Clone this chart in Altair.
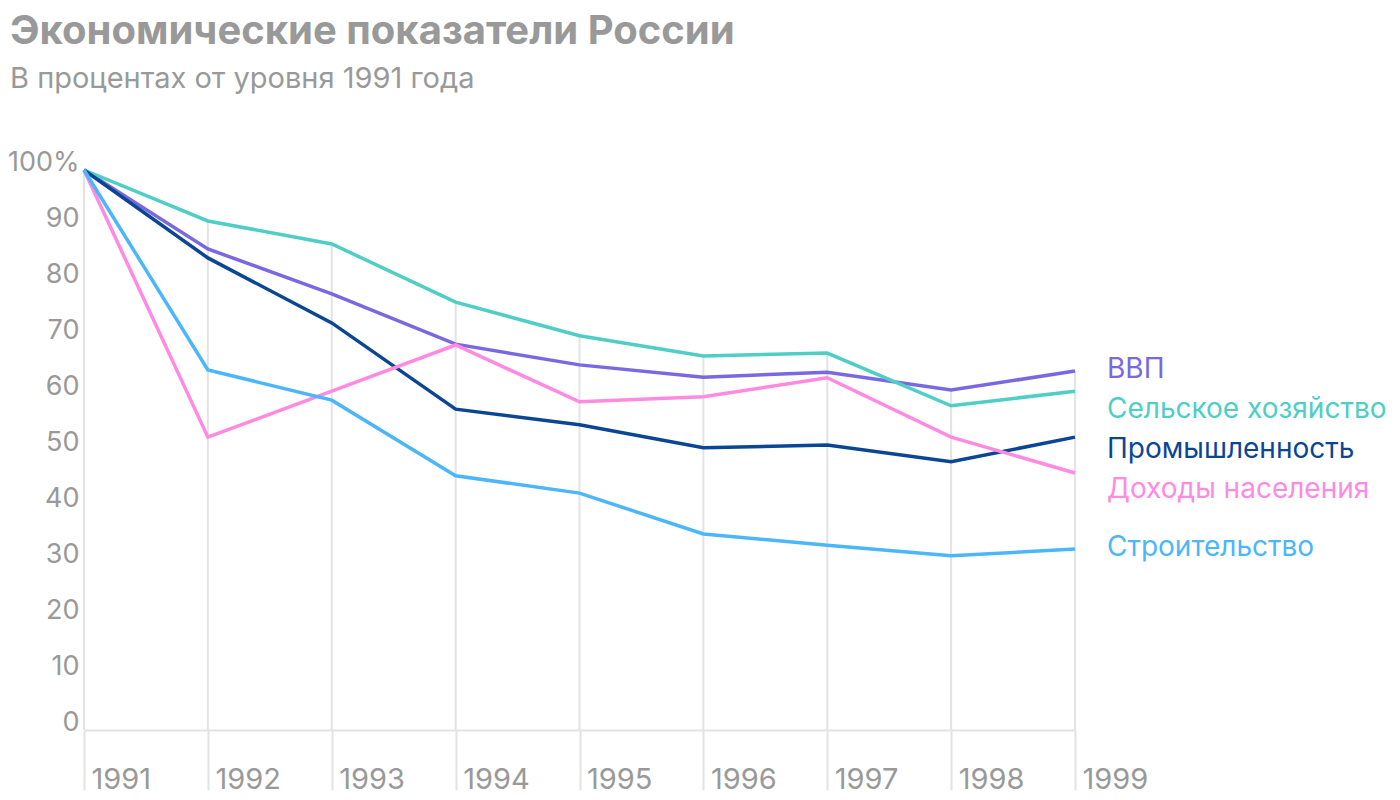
import altair as alt
import pandas as pd

years = [1991, 1992, 1993, 1994, 1995, 1996, 1997, 1998, 1999]
series_names = ["ВВП", "Сельское хозяйство", "Промышленность", "Доходы населения", "Строительство"]
gdp = [100, 85.9, 77.9, 68.9, 65.2, 63.0, 63.9, 60.7, 64.1]
agri = [100, 90.9, 86.8, 76.4, 70.4, 66.8, 67.3, 57.9, 60.5]
industry = [100, 84.3, 72.7, 57.3, 54.5, 50.4, 50.9, 47.9, 52.3]
income = [100, 52.3, 60.5, 68.75, 58.6, 59.5, 62.9, 52.3, 45.9]
construction = [100, 64.3, 58.9, 45.4, 42.3, 35.0, 33.0, 31.1, 32.3]
label_y = [64.3, 57.1, 50.0, 42.9, 32.5]
colors = ["#7a68e2", "#4ecec4", "#0a4694", "#ff8ae2", "#4cb6fb"]
y_ticks = [0, 10, 20, 30, 40, 50, 60, 70, 80, 90, 100]

all_series = [gdp, agri, industry, income, construction]
rows = []
for name, vals in zip(series_names, all_series):
    for yr, v in zip(years, vals):
        rows.append({"year": yr, "series": name, "value": v})
df = pd.DataFrame(rows)

drop_df = pd.DataFrame({"year": years, "top": [max(s[i] for s in all_series) for i in range(len(years))]})
lab_df = pd.DataFrame({"series": series_names, "year": [years[-1]] * len(series_names), "ly": label_y})

FONT = "Inter"
GRAY = "#999999"
GRID = "#e3e3e3"

xscale = alt.Scale(domain=[1991, 1999], nice=False, zero=False)
yscale = alt.Scale(domain=[0, 100], nice=False)
cscale = alt.Scale(domain=series_names, range=colors)

drops = alt.Chart(drop_df).mark_rule(color=GRID, strokeWidth=2).encode(
    x=alt.X("year:Q", scale=xscale,
            axis=alt.Axis(values=years, format="d", title=None, grid=False,
                          domain=True, domainColor=GRID, domainWidth=2,
                          ticks=True, tickColor=GRID, tickWidth=2, tickSize=60,
                          labelAlign="left", labelBaseline="alphabetic", labelOffset=7,
                          labelPadding=-2, labelFontSize=29, labelColor=GRAY,
                          labelFont=FONT, labelFlush=False)),
    y=alt.Y("top:Q", scale=yscale,
            axis=alt.Axis(values=y_ticks, title=None, grid=False, domain=False, ticks=False,
                          labelExpr="datum.value == 100 ? '100%' : datum.label",
                          labelAlign="right", labelBaseline="alphabetic", labelPadding=5,
                          labelFontSize=27, labelColor=GRAY, labelFont=FONT)),
    y2=alt.datum(0),
)

lines = alt.Chart(df).mark_line(strokeWidth=3.5, strokeJoin="miter").encode(
    x=alt.X("year:Q", scale=xscale),
    y=alt.Y("value:Q", scale=yscale),
    color=alt.Color("series:N", scale=cscale, legend=None),
    order=alt.Order("year:Q"),
)

labels = alt.Chart(lab_df).mark_text(align="left", baseline="middle", dx=32,
                                     fontSize=28, font=FONT).encode(
    x=alt.X("year:Q", scale=xscale),
    y=alt.Y("ly:Q", scale=yscale),
    text="series:N",
    color=alt.Color("series:N", scale=cscale, legend=None),
)

chart = alt.layer(drops, lines, labels).properties(
    width=991, height=560,
    padding={"left": 76, "top": 162, "right": 317, "bottom": 70},
    autosize=alt.AutoSizeParams(type="none"),
    title=alt.TitleParams(
        text="Экономические показатели России",
        subtitle="В процентах от уровня 1991 года",
        anchor="start", frame="group", dx=-74, offset=54,
        font=FONT, fontSize=40, fontWeight="bold", color=GRAY,
        subtitleFont=FONT, subtitleFontSize=29, subtitleColor=GRAY,
        subtitlePadding=13,
    ),
).configure_view(stroke=None)

chart.save("out.html", embed_options={"renderer": "svg", "actions": False})
